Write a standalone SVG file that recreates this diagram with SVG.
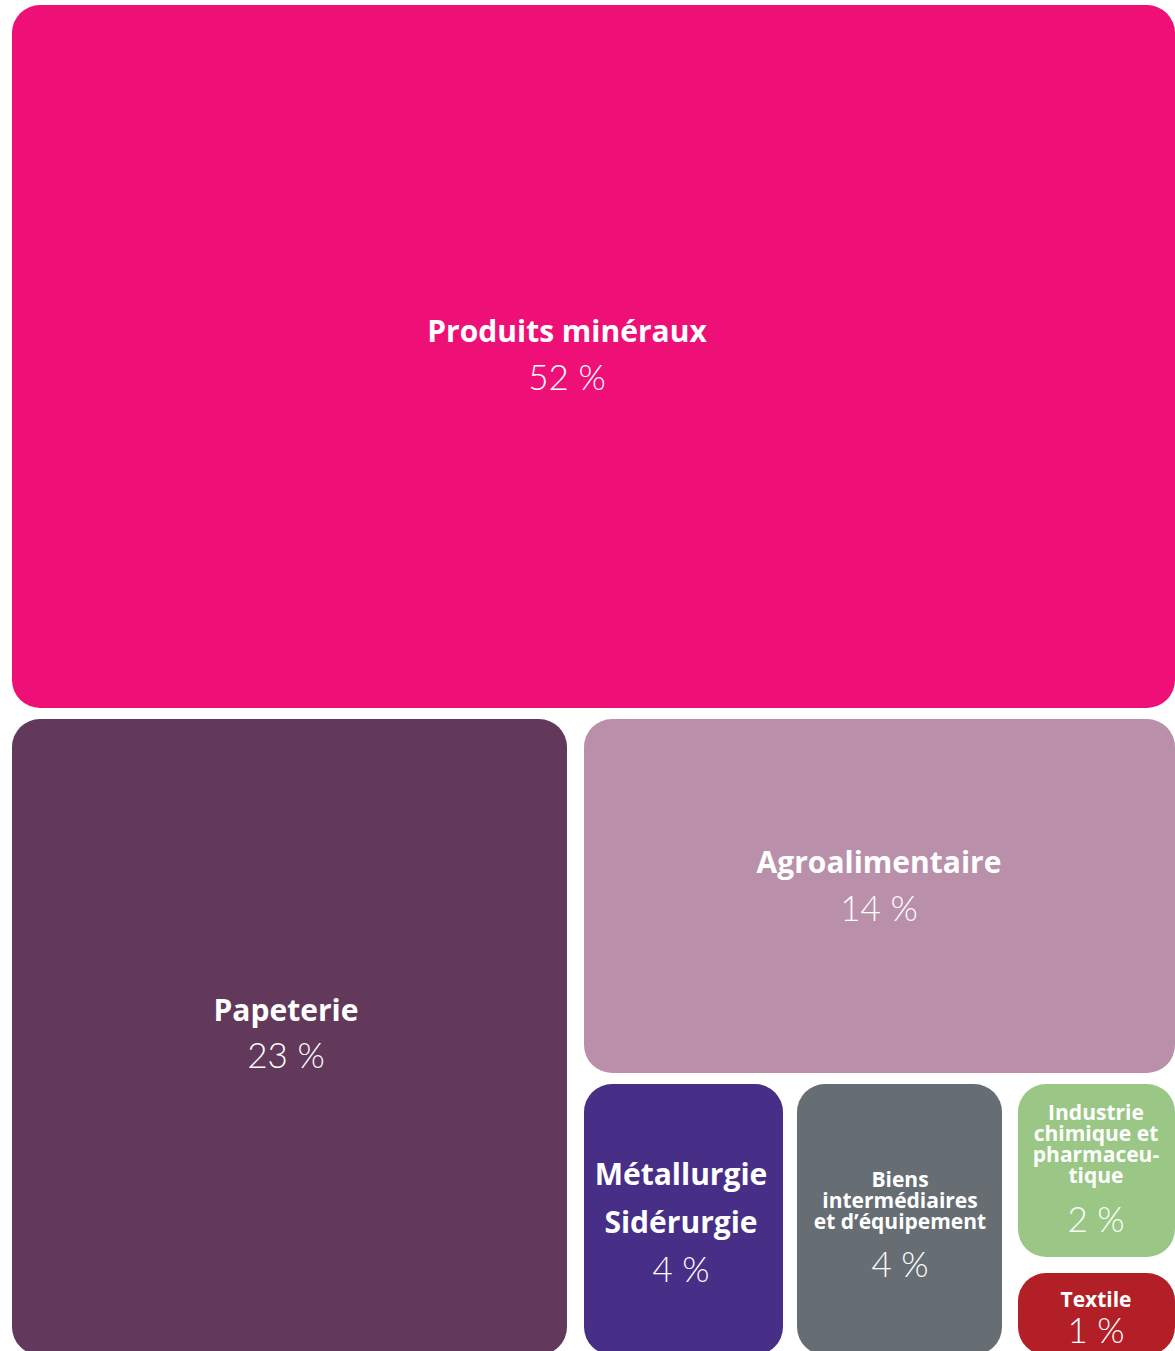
<svg xmlns="http://www.w3.org/2000/svg" width="1175" height="1351" viewBox="0 0 1175 1351">
<style>
.t{font-family:"Open Sans","Noto Sans","Liberation Sans",sans-serif;fill:#fff;text-anchor:middle;font-weight:700}
.big{font-size:30px}
.sm{font-size:21px}
.p{font-family:Lato,"Liberation Sans",sans-serif;fill:#fff;text-anchor:middle;font-weight:300;font-size:35px}
</style>
<rect width="1175" height="1351" fill="#fff"/>
<g id="produits-mineraux">
<rect x="12" y="5" width="1163" height="703" rx="28" fill="#EE1076"/>
<text class="t big" x="567" y="342">Produits minéraux</text>
<text class="p" x="567" y="390">52 %</text>
</g>
<g id="papeterie">
<rect x="12" y="719" width="555" height="636" rx="28" fill="#62395B"/>
<text class="t big" x="286" y="1021">Papeterie</text>
<text class="p" x="286" y="1068">23 %</text>
</g>
<g id="agroalimentaire">
<rect x="584" y="719" width="591" height="354" rx="28" fill="#B98FAA"/>
<text class="t big" x="879" y="873">Agroalimentaire</text>
<text class="p" x="879" y="921">14 %</text>
</g>
<g id="metallurgie">
<rect x="584" y="1084" width="199" height="271" rx="28" fill="#472F88"/>
<text class="t big" x="681" y="1185">Métallurgie<tspan x="681" dy="48">Sidérurgie</tspan></text>
<text class="p" x="681" y="1282">4 %</text>
</g>
<g id="biens">
<rect x="797" y="1084" width="205" height="271" rx="28" fill="#666D73"/>
<text class="t sm" x="900" y="1187">Biens<tspan x="900" dy="21">intermédiaires</tspan><tspan x="900" dy="21">et d’équipement</tspan></text>
<text class="p" x="900" y="1277">4 %</text>
</g>
<g id="industrie">
<rect x="1018" y="1084" width="157" height="173" rx="28" fill="#9AC785"/>
<text class="t sm" x="1096" y="1120">Industrie<tspan x="1096" dy="21">chimique et</tspan><tspan x="1096" dy="21">pharmaceu-</tspan><tspan x="1096" dy="21">tique</tspan></text>
<text class="p" x="1096" y="1232">2 %</text>
</g>
<g id="textile">
<rect x="1018" y="1273" width="157" height="82" rx="28" fill="#B21F27"/>
<text class="t sm" x="1096" y="1307">Textile</text>
<text class="p" x="1096" y="1343">1 %</text>
</g>
<g id="connectors"></g>
</svg>
